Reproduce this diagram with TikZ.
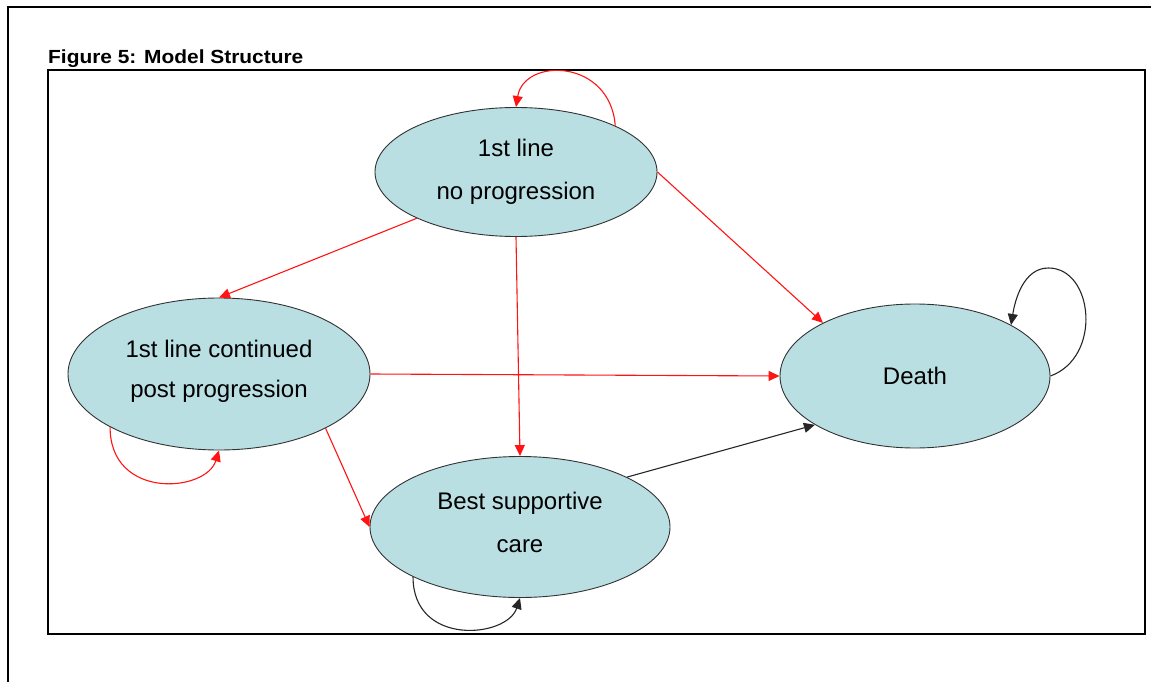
\documentclass[tikz,border=0pt]{standalone}
\usepackage{fontspec}
\setmainfont{Liberation Sans}
\usetikzlibrary{shapes.geometric,arrows.meta}
\definecolor{stfill}{RGB}{185,223,227}
\definecolor{stedge}{RGB}{50,50,50}
\definecolor{redarc}{RGB}{255,20,20}
\tikzset{
  state/.style={ellipse, draw=stedge, fill=stfill, line width=0.9pt,
    inner sep=0pt, align=center, font=\fontsize{24}{43}\selectfont},
  tip/.style={-{Triangle[length=11pt,width=10pt]}},
  redlink/.style={tip, draw=redarc, line width=1.1pt},
  blacklink/.style={tip, draw=black!85, line width=1.1pt},
  frameline/.style={line width=2pt, draw=black}
}
\begin{document}
\begin{tikzpicture}[x=1pt,y=-1pt]
\useasboundingbox (0,0) rectangle (1151,682);
% page frame and figure box
\draw[frameline] (1151,7) -- (8,7) -- (8,682);
\draw[frameline] (48,70) rectangle (1145,634);
\node[anchor=base west, inner sep=0pt, font=\bfseries\fontsize{19}{21}\selectfont]
  (title) at (48,64) {\scalebox{1.1}[1]{Figure 5: Model Structure}};

% health states
\node[state, minimum width=282pt, minimum height=129pt] (n1) at (516,172) {1st line\\no progression};
\node[state, minimum width=302pt, minimum height=152pt,
  font=\fontsize{24}{40}\selectfont] (n2) at (219,374) {1st line continued\\post progression\\[-30pt]};
\node[state, minimum width=300pt, minimum height=141pt] (n3) at (520,527) {Best supportive\\care\\[-34pt]};
\node[state, minimum width=270pt, minimum height=144pt] (d) at (915,376) {Death};

% transitions
\draw[redlink] (n1.205) -- (n2.north);
\draw[redlink] (n1.south) -- (n3.north);
\draw[redlink] (n1.east) -- (d.150.8);
\draw[redlink] (n2.east) -- (d.west);
\draw[redlink] (n2.333.4) -- (n3.west);
\draw[blacklink] (n3.25) -- (d.206.8);

% remaining in the same state
\draw[redlink] (n1.25) .. controls +(-5,-67) and +(8,-50) .. (n1.north);
\draw[redlink] (n2.206.4) .. controls +(0,73) and +(-13,42) .. (n2.south);
\draw[blacklink] (n3.205) .. controls +(0,70) and +(-13,40) .. (n3.south);
\draw[blacklink] (d.east) .. controls +(52,-19) and +(45,0) .. ++(-2,-108)
  .. controls +(-25,0) and +(4,-25) .. (d.28);
\end{tikzpicture}
\end{document}
